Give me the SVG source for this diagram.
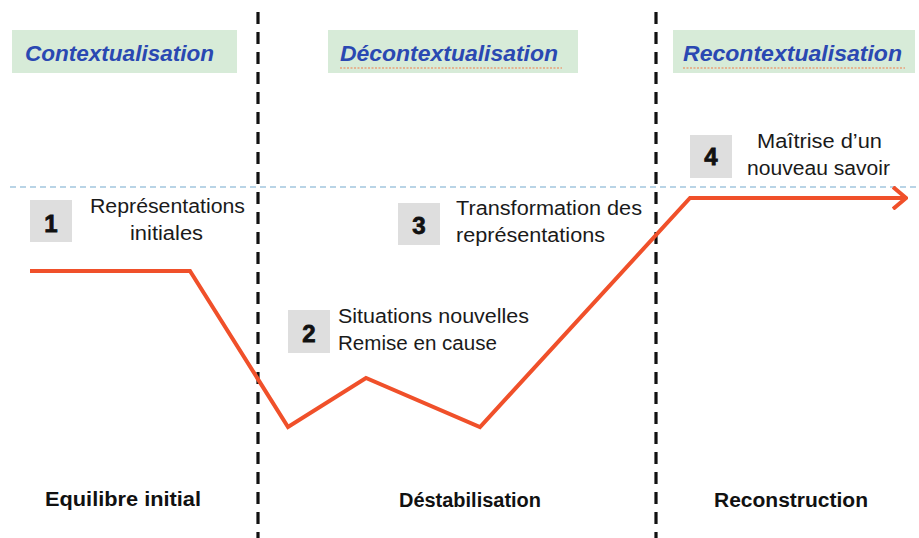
<svg xmlns="http://www.w3.org/2000/svg" width="919" height="538" viewBox="0 0 919 538">
  <defs>
    <style>
      .hdr { fill: #d7ebd8; }
      .htxt { font-family: "Liberation Sans", Arial, sans-serif; font-weight: bold; font-style: italic; font-size: 22px; fill: #2a48b2; }
      .num { fill: #dedede; }
      .ntxt { font-family: "Liberation Sans", Arial, sans-serif; font-weight: bold; font-size: 24px; fill: #111; stroke: #111; stroke-width: 0.8; text-anchor: middle; }
      .lbl { font-family: "Liberation Sans", Arial, sans-serif; font-size: 20px; fill: #1a1a1a; }
      .btxt { font-family: "Liberation Sans", Arial, sans-serif; font-weight: bold; font-size: 20px; fill: #111; }
      .vdash { stroke: #111; stroke-width: 3.2; stroke-dasharray: 12 8; fill: none; }
      .hdash { stroke: #a3c6de; stroke-width: 1.5; stroke-dasharray: 6 4; fill: none; }
      .squig { stroke: #e9a27a; stroke-width: 1.5; stroke-dasharray: 2 1.5; fill: none; }
      .curve { stroke: #f0502a; stroke-width: 4; fill: none; stroke-linejoin: miter; }
    </style>
    <marker id="arrow" viewBox="0 0 16 24" refX="14" refY="12" markerWidth="16" markerHeight="24" markerUnits="userSpaceOnUse" orient="auto">
      <path d="M1,1 L14,12 L1,23" fill="none" stroke="#f0502a" stroke-width="4"/>
    </marker>
  </defs>

  <rect width="919" height="538" fill="#ffffff"/>

  <g id="guides">
    <line class="hdash" x1="10" y1="187" x2="919" y2="187"/>
    <line class="vdash" x1="258" y1="12" x2="258" y2="538"/>
    <line class="vdash" x1="656" y1="12" x2="656" y2="538"/>
  </g>

  <g id="phase-contextualisation">
    <rect class="hdr" x="12" y="30" width="225" height="43"/>
    <text class="htxt" x="25" y="61" textLength="189" lengthAdjust="spacingAndGlyphs">Contextualisation</text>
  </g>
  <g id="phase-decontextualisation">
    <rect class="hdr" x="328" y="30" width="250" height="43"/>
    <text class="htxt" x="340" y="61" textLength="218" lengthAdjust="spacingAndGlyphs">Décontextualisation</text>
    <line class="squig" x1="340" y1="68" x2="562" y2="68"/>
  </g>
  <g id="phase-recontextualisation">
    <rect class="hdr" x="673" y="30" width="242" height="43"/>
    <text class="htxt" x="683" y="61" textLength="219" lengthAdjust="spacingAndGlyphs">Recontextualisation</text>
    <line class="squig" x1="683" y1="68" x2="905" y2="68"/>
  </g>

  <g id="step1">
    <rect class="num" x="30" y="200" width="42" height="42"/>
    <text class="ntxt" x="51" y="232">1</text>
    <text class="lbl" x="90" y="213" textLength="155" lengthAdjust="spacingAndGlyphs">Représentations</text>
    <text class="lbl" x="130" y="240" textLength="73" lengthAdjust="spacingAndGlyphs">initiales</text>
  </g>
  <g id="step2">
    <rect class="num" x="288" y="310" width="42" height="43"/>
    <text class="ntxt" x="309" y="342">2</text>
    <text class="lbl" x="338" y="323" textLength="191" lengthAdjust="spacingAndGlyphs">Situations nouvelles</text>
    <text class="lbl" x="338" y="350" textLength="159" lengthAdjust="spacingAndGlyphs">Remise en cause</text>
  </g>
  <g id="step3">
    <rect class="num" x="398" y="203" width="42" height="42"/>
    <text class="ntxt" x="419" y="234">3</text>
    <text class="lbl" x="456" y="215" textLength="186" lengthAdjust="spacingAndGlyphs">Transformation des</text>
    <text class="lbl" x="456" y="242" textLength="149" lengthAdjust="spacingAndGlyphs">représentations</text>
  </g>
  <g id="step4">
    <rect class="num" x="690" y="135" width="42" height="43"/>
    <text class="ntxt" x="711" y="165">4</text>
    <text class="lbl" x="757" y="148" textLength="125" lengthAdjust="spacingAndGlyphs">Maîtrise d’un</text>
    <text class="lbl" x="747" y="175" textLength="143" lengthAdjust="spacingAndGlyphs">nouveau savoir</text>
  </g>

  <g id="stage-labels">
    <text class="btxt" x="45" y="506" textLength="156" lengthAdjust="spacingAndGlyphs">Equilibre initial</text>
    <text class="btxt" x="399" y="507" textLength="142" lengthAdjust="spacingAndGlyphs">Déstabilisation</text>
    <text class="btxt" x="714" y="507" textLength="154" lengthAdjust="spacingAndGlyphs">Reconstruction</text>
  </g>

  <g id="connectors">
    <polyline class="curve" points="30,271 190,271 288,427 366,378 480,427 690,198 906,198" marker-end="url(#arrow)"/>
  </g>
</svg>
